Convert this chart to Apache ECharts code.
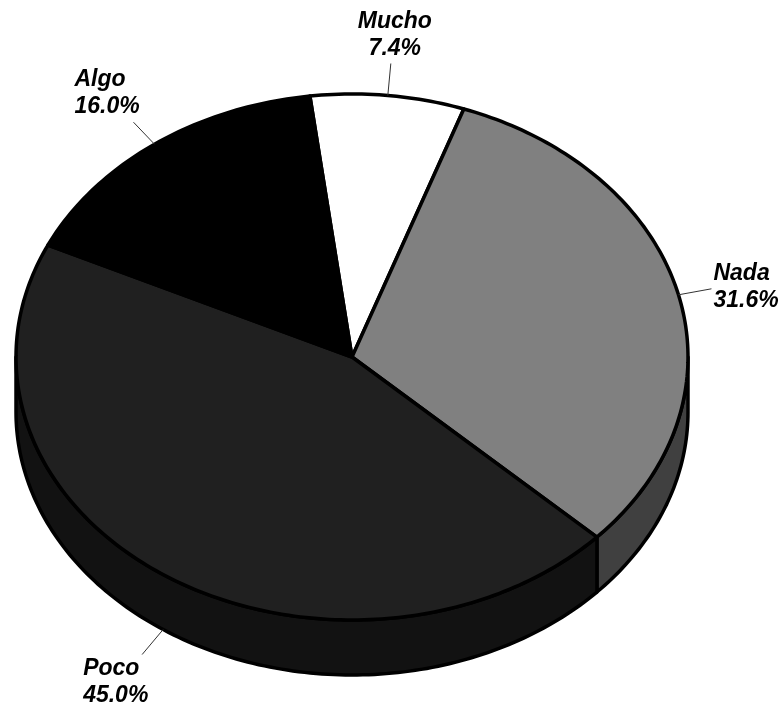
<!DOCTYPE html>
<html>
<head>
<meta charset="utf-8">
<script src="https://cdn.jsdelivr.net/npm/echarts@6/dist/echarts.min.js"></script>
<style>
html,body{margin:0;padding:0;background:#fff;}
#chart{width:783px;height:711px;}
</style>
</head>
<body>
<div id="chart"></div>
<script>
// ---- data ----
const categories = ['Mucho', 'Nada', 'Poco', 'Algo'];
const percents = [7.4, 31.6, 45.0, 16.0];
const percentLabels = ['7.4%', '31.6%', '45.0%', '16.0%'];

// ---- styling / geometry ----
const topColors = ['#ffffff', '#808080', '#202020', '#000000'];
const sideColors = ['#dddddd', '#404040', '#121212', '#000000'];
const CX = 352, CY = 357, RX = 336, RY = 263, DEPTH = 55;
const START = -7.2; // degrees, clockwise from 12 o'clock
// leader line offsets and text placement per label
const labelCfg = [
  { bottom: false, lead: [3, -32], txt: [4, -1], align: 'center', valign: 'bottom' },
  { bottom: false, lead: [33, -6], txt: [2, -2], align: 'left', valign: 'middle' },
  { bottom: true,  lead: [-21, 25], txt: [-59, 1], align: 'left', valign: 'top' },
  { bottom: false, lead: [-21, -22], txt: [-59, -2], align: 'left', valign: 'bottom' }
];

const total = percents.reduce((a, b) => a + b, 0);
const angles = [];
let acc = START;
percents.forEach(v => { const s = acc; acc += v / total * 360; angles.push([s, acc]); });

function pt(deg, dy) {
  const r = deg * Math.PI / 180;
  return [CX + RX * Math.sin(r), CY - RY * Math.cos(r) + (dy || 0)];
}
function arc(a0, a1, dy) {
  const pts = [];
  const n = Math.max(2, Math.ceil(Math.abs(a1 - a0)));
  for (let i = 0; i <= n; i++) pts.push(pt(a0 + (a1 - a0) * i / n, dy));
  return pts;
}

function sideItem(params, api) {
  const i = params.dataIndex;
  const [a0, a1] = angles[i];
  const children = [];
  const ranges = [];
  [[a0, a1], [a0 + 360, a1 + 360], [a0 - 360, a1 - 360]].forEach(([s, e]) => {
    const lo = Math.max(s, 90), hi = Math.min(e, 270);
    if (hi > lo) ranges.push([lo, hi]);
  });
  ranges.forEach(([lo, hi]) => {
    const top = arc(lo, hi, 0);
    const bot = arc(hi, lo, DEPTH);
    children.push({
      type: 'polygon',
      shape: { points: top.concat(bot) },
      style: { fill: sideColors[i], stroke: '#000', lineWidth: 3.5, lineJoin: 'round' }
    });
  });
  return { type: 'group', children };
}

function topItem(params, api) {
  const i = params.dataIndex;
  const [a0, a1] = angles[i];
  const pts = [[CX, CY]].concat(arc(a0, a1, 0));
  return {
    type: 'polygon',
    shape: { points: pts },
    style: { fill: topColors[i], stroke: '#000', lineWidth: 3.5, lineJoin: 'round' }
  };
}

function labelItem(params, api) {
  const i = params.dataIndex;
  const [a0, a1] = angles[i];
  const mid = (a0 + a1) / 2;
  const c = labelCfg[i];
  const anchor = pt(mid, c.bottom ? DEPTH : 0);
  const end = [anchor[0] + c.lead[0], anchor[1] + c.lead[1]];
  return {
    type: 'group',
    children: [
      { type: 'line', shape: { x1: anchor[0], y1: anchor[1], x2: end[0], y2: end[1] },
        style: { stroke: '#333', lineWidth: 1 } },
      { type: 'text', x: end[0] + c.txt[0], y: end[1] + c.txt[1],
        style: {
          text: categories[i] + '\n' + percentLabels[i],
          font: 'italic bold 23px "Liberation Sans", Arial, sans-serif',
          fill: '#000', lineHeight: 27,
          align: c.align, verticalAlign: c.valign,
          textAlign: c.align, textVerticalAlign: c.valign
        } }
    ]
  };
}

const chart = echarts.init(document.getElementById('chart'), null, { renderer: 'canvas' });
chart.setOption({
  animation: false,
  backgroundColor: '#fff',
  series: [
    { type: 'custom', coordinateSystem: 'none', renderItem: sideItem, data: percents, z: 1 },
    { type: 'custom', coordinateSystem: 'none', renderItem: topItem, data: percents, z: 2 },
    { type: 'custom', coordinateSystem: 'none', renderItem: labelItem, data: percents, z: 3 }
  ]
});
</script>
</body>
</html>
